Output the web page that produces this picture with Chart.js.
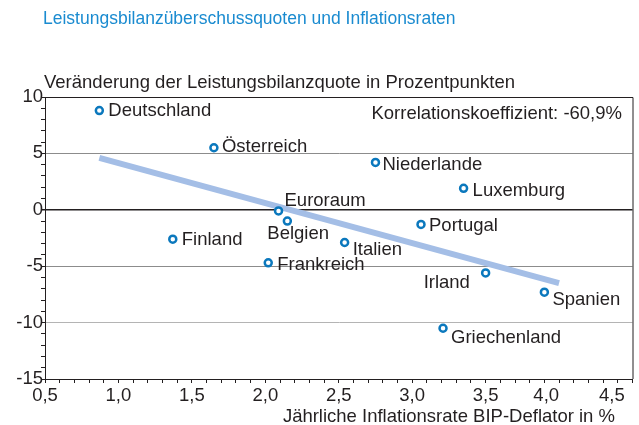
<!DOCTYPE html>
<html>
<head>
<meta charset="utf-8">
<script src="https://cdn.jsdelivr.net/npm/chart.js@4.4.1/dist/chart.umd.min.js"></script>
<style>
    html, body { margin: 0; padding: 0; background: #fff; }
    #wrap { width: 639px; height: 425px; }
</style>
</head>
<body>
<div id="wrap"><canvas id="scatterChart" width="639" height="425"></canvas></div>
<script>
// Data
const countries = ['Deutschland', 'Österreich', 'Niederlande', 'Luxemburg', 'Euroraum', 'Belgien',
    'Finland', 'Frankreich', 'Portugal', 'Italien', 'Irland', 'Spanien', 'Griechenland'];
const inflation = [0.87, 1.65, 2.75, 3.35, 2.09, 2.15, 1.37, 2.02, 3.06, 2.54, 3.5, 3.9, 3.21];
const balanceChange = [8.8, 5.5, 4.2, 1.9, -0.1, -1.0, -2.6, -4.7, -1.3, -2.9, -5.6, -7.3, -10.5];
const trendX = [0.87, 4.0];
const trendY = [4.6, -6.5];
const xTickValues = [0.5, 1.0, 1.5, 2.0, 2.5, 3.0, 3.5, 4.0, 4.5];
const xTickLabels = ['0,5', '1,0', '1,5', '2,0', '2,5', '3,0', '3,5', '4,0', '4,5'];
const yTickValues = [10, 5, 0, -5, -10, -15];
const yTickLabels = ['10', '5', '0', '-5', '-10', '-15'];

const titleText = 'Leistungsbilanzüberschussquoten und Inflationsraten';
const yTitleText = 'Veränderung der Leistungsbilanzquote in Prozentpunkten';
const xTitleText = 'Jährliche Inflationsrate BIP-Deflator in %';
const corrText = 'Korrelationskoeffizient: -60,9%';

// label placement relative to the point (text left, baseline)
const labelOffsets = [[9, 5], [8, 4], [7, 8], [9, 8], [6, -5], [-20, 18],
    [9, 6], [9, 7], [8, 7], [8, 12], [-62, 15], [8, 13], [8, 15]];
// trailing spaces nudge the last two x labels like in the original
const xLabelNudge = { '4,0': 5, '4,5': 8 };

const FONT = '"Liberation Sans", Arial, Helvetica, sans-serif';
const TEXT = '#231f20';
const BLUE = '#0b78bd';

const textPlugin = {
    id: 'texts',
    afterDatasetsDraw(chart) {
        const { ctx, chartArea: a } = chart;
        const meta = chart.getDatasetMeta(1);
        ctx.save();
        ctx.font = '18.5px ' + FONT;
        ctx.fillStyle = TEXT;
        ctx.textBaseline = 'alphabetic';
        ctx.textAlign = 'left';
        meta.data.forEach((pt, i) => {
            const off = labelOffsets[i];
            ctx.fillText(countries[i], pt.x + off[0], pt.y + off[1]);
        });
        ctx.restore();
    },
    afterDraw(chart) {
        const { ctx, chartArea: a } = chart;
        ctx.save();
        // frame top + right
        ctx.strokeStyle = TEXT;
        ctx.lineWidth = 1;
        ctx.beginPath();
        ctx.moveTo(a.left, a.top + 0.5);
        ctx.lineTo(a.right + 0.5, a.top + 0.5);
        ctx.lineTo(a.right + 0.5, a.bottom);
        ctx.stroke();

        ctx.textBaseline = 'alphabetic';
        ctx.fillStyle = '#1a8bd0';
        ctx.font = '17.5px ' + FONT;
        ctx.textAlign = 'left';
        ctx.fillText(titleText, 43, 24);

        ctx.fillStyle = TEXT;
        ctx.font = '18.5px ' + FONT;
        ctx.fillText(yTitleText, 44, 87.5);
        ctx.textAlign = 'right';
        ctx.fillText(corrText, 622, 118.5);
        ctx.fillText(xTitleText, 615, 421.5);
        ctx.restore();
    }
};

function xLabel(v) {
    const idx = xTickValues.findIndex(t => Math.abs(t - v) < 1e-6);
    if (idx < 0) return '';
    const lbl = xTickLabels[idx];
    return lbl + ' '.repeat(xLabelNudge[lbl] || 0);
}

function yLabel(v) {
    const idx = yTickValues.indexOf(v);
    return idx < 0 ? '' : yTickLabels[idx];
}

function yGridColor(ctx) {
    const v = ctx.tick.value;
    if (v === 0 || v === 10) return TEXT;
    if (v === -10) return '#b4b4b4';
    if (v % 5 === 0) return '#8c8c8c';
    return 'rgba(0,0,0,0)';
}

new Chart(document.getElementById('scatterChart'), {
    type: 'scatter',
    data: {
        datasets: [
            {
                type: 'line',
                data: trendX.map((x, i) => ({ x: x, y: trendY[i] })),
                borderColor: '#a4bee6',
                borderWidth: 6,
                borderCapStyle: 'butt',
                pointRadius: 0,
                fill: false,
                order: 2,
            },
            {
                data: inflation.map((x, i) => ({ x: x, y: balanceChange[i] })),
                backgroundColor: '#ffffff',
                borderColor: BLUE,
                borderWidth: 2.5,
                pointRadius: 3.5,
                order: 1,
            },
        ],
    },
    options: {
        responsive: false,
        animation: false,
        devicePixelRatio: 1,
        layout: { padding: { top: 97, left: 0, right: 4, bottom: 0 } },
        plugins: {
            legend: { display: false },
            tooltip: { enabled: false },
        },
        scales: {
            x: {
                type: 'linear',
                min: 0.5,
                max: 4.5,
                ticks: {
                    stepSize: 0.1,
                    autoSkip: false,
                    maxRotation: 0,
                    padding: 2,
                    color: TEXT,
                    font: { size: 18.5, family: FONT },
                    callback: xLabel,
                },
                grid: {
                    color: 'rgba(0,0,0,0)',
                    drawOnChartArea: false,
                    tickColor: TEXT,
                    tickLength: 4,
                },
                border: { color: TEXT, width: 1 },
                afterFit: (scale) => {
                    scale.height = 46;
                    scale.paddingLeft = 0;
                    scale.paddingRight = 0;
                },
            },
            y: {
                min: -15,
                max: 10,
                ticks: {
                    stepSize: 1,
                    autoSkip: false,
                    padding: -2,
                    color: TEXT,
                    font: { size: 18.5, family: FONT },
                    callback: yLabel,
                },
                grid: {
                    color: yGridColor,
                    lineWidth: (ctx) => (ctx.tick.value === 0 ? 1.5 : 1),
                    tickColor: TEXT,
                    tickLength: 4,
                },
                border: { color: TEXT, width: 1 },
                afterFit: (scale) => {
                    scale.width = 45;
                    scale.paddingTop = 0;
                    scale.paddingBottom = 0;
                },
            },
        },
    },
    plugins: [textPlugin],
});
</script>
</body>
</html>
